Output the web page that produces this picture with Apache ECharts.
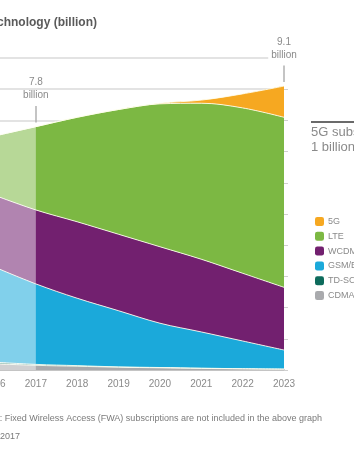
<!DOCTYPE html>
<html>
<head>
<meta charset="utf-8">
<script src="https://cdn.jsdelivr.net/npm/echarts@6/dist/echarts.min.js"></script>
<style>
html,body{margin:0;padding:0;background:#fff;}
#chart{width:354px;height:460px;}
</style>
</head>
<body>
<div id="chart"></div>
<script>
// ---- data (billion subscriptions) ----
const years = ['2016', '2017', '2018', '2019', '2020', '2021', '2022', '2023'];
const cdmaOnly = [0.20, 0.15, 0.12, 0.09, 0.07, 0.05, 0.04, 0.03];
const tdScdma = [0.05, 0.03, 0.02, 0.01, 0.01, 0.01, 0.00, 0.00];
const gsmEdge = [3.05, 2.58, 2.16, 1.80, 1.42, 1.16, 0.89, 0.61];
const wcdmaHspa = [2.30, 2.37, 2.45, 2.45, 2.45, 2.33, 2.17, 2.01];
const lte = [1.90, 2.67, 3.35, 4.00, 4.58, 5.00, 5.30, 5.45];
const fiveG = [0.00, 0.00, 0.00, 0.00, 0.02, 0.10, 0.45, 1.00];
const seriesNames = ['CDMA-only', 'TD-SCDMA', 'GSM/EDGE-only', 'WCDMA/HSPA', 'LTE', '5G'];
const legendOrder = ['5G', 'LTE', 'WCDMA/HSPA', 'GSM/EDGE-only', 'TD-SCDMA', 'CDMA-only'];
const historyEnd = '2017';
const calloutYears = ['2017', '2023'];
const yTicks = [0, 10, 1]; // min, max, interval

const seriesData = [cdmaOnly, tdScdma, gsmEdge, wcdmaHspa, lte, fiveG];
const colors = ['#a9aaad', '#0d6b5c', '#1ba9da', '#72206f', '#7cb843', '#f6a821'];

const totals = years.map((_, i) => seriesData.reduce((s, a) => s + a[i], 0));
const histIdx = years.indexOf(historyEnd);

const chart = echarts.init(document.getElementById('chart'), null, {renderer: 'canvas'});

const series = seriesData.map((d, k) => ({
  name: seriesNames[k],
  type: 'line',
  stack: 'total',
  data: d,
  smooth: 0.35,
  showSymbol: false,
  symbol: 'none',
  color: colors[k],
  lineStyle: {color: 'rgba(255,255,240,0.85)', width: 1},
  areaStyle: {color: colors[k], opacity: 1},
  emphasis: {disabled: true},
  silent: true
}));

// overlay + callouts on the top series
series[series.length - 1].markArea = {
  silent: true,
  z: 20,
  itemStyle: {color: 'rgba(255,255,255,0.45)'},
  data: [[{xAxis: years[0], yAxis: 0}, {xAxis: historyEnd, yAxis: totals[histIdx]}]]
};
series[series.length - 1].markLine = {
  silent: true,
  z: 20,
  symbol: ['none', 'none'],
  lineStyle: {color: '#b0b0b0', width: 1.5, type: 'solid'},
  label: {
    position: 'end',
    distance: 4,
    fontSize: 10,
    lineHeight: 13,
    color: '#8a8a8a',
    fontFamily: 'Liberation Sans, Arial, sans-serif'
  },
  data: calloutYears.map((y, j) => {
    const t = totals[years.indexOf(y)];
    const lab = t.toFixed(1) + '\nbillion';
    return [
      {coord: [y, t + 0.13]},
      {coord: [y, t + 0.66], label: {formatter: lab, backgroundColor: j === 1 ? '#fff' : 'transparent', padding: j === 1 ? [0, 3, 0, 3] : 0}}
    ];
  })
};

chart.setOption({
  animation: false,
  backgroundColor: '#fff',
  grid: {left: -5.5, right: 70, top: 58, bottom: 90, containLabel: false, outerBoundsMode: 'none'},
  xAxis: {
    type: 'category',
    data: years,
    boundaryGap: false,
    axisLine: {show: true, lineStyle: {color: '#c4c4c4', width: 2}},
    axisTick: {show: false},
    axisLabel: {color: '#8a8a8a', fontSize: 10, margin: 9, fontFamily: 'Liberation Sans, Arial, sans-serif'},
    splitLine: {show: false}
  },
  yAxis: {
    type: 'value',
    position: 'right',
    min: yTicks[0],
    max: yTicks[1],
    interval: yTicks[2],
    axisLine: {show: false},
    axisTick: {show: true, length: 4, lineStyle: {color: '#d0d0d0', width: 1}},
    axisLabel: {show: false},
    splitLine: {show: true, lineStyle: {color: '#dadada', width: 1.5}}
  },
  legend: {
    data: legendOrder,
    orient: 'vertical',
    left: 310,
    top: 212,
    itemWidth: 9,
    itemHeight: 9,
    itemGap: 5.8,
    icon: 'roundRect',
    selectedMode: false,
    textStyle: {color: '#8a8a8a', fontSize: 9, fontFamily: 'Liberation Sans, Arial, sans-serif', padding: [0, 0, 0, -1]}
  },
  graphic: [
    {
      type: 'text', x: 97, y: 23,
      style: {
        text: 'Mobile subscriptions by technology (billion)',
        align: 'right', verticalAlign: 'middle',
        fill: '#5a5a5a', fontSize: 12, fontWeight: 'bold',
        fontFamily: 'Liberation Sans, Arial, sans-serif'
      }
    },
    {
      type: 'line', shape: {x1: 311, y1: 122, x2: 360, y2: 122},
      style: {stroke: '#6a6a6a', lineWidth: 2}
    },
    {
      type: 'text', x: 311, y: 140,
      style: {
        text: '5G subscriptions:\n1 billion',
        align: 'left', verticalAlign: 'middle',
        fill: '#8a8a8a', fontSize: 13, lineHeight: 15,
        fontFamily: 'Liberation Sans, Arial, sans-serif'
      }
    },
    {
      type: 'text', x: 322, y: 419,
      style: {
        text: 'Note: Fixed Wireless Access (FWA) subscriptions are not included in the above graph',
        align: 'right', verticalAlign: 'middle',
        fill: '#7a7a7a', fontSize: 9,
        fontFamily: 'Liberation Sans, Arial, sans-serif'
      }
    },
    {
      type: 'text', x: 20, y: 437,
      style: {
        text: 'Source: Ericsson Mobility Report, November 2017',
        align: 'right', verticalAlign: 'middle',
        fill: '#7a7a7a', fontSize: 9,
        fontFamily: 'Liberation Sans, Arial, sans-serif'
      }
    }
  ],
  series: series
});
</script>
</body>
</html>
